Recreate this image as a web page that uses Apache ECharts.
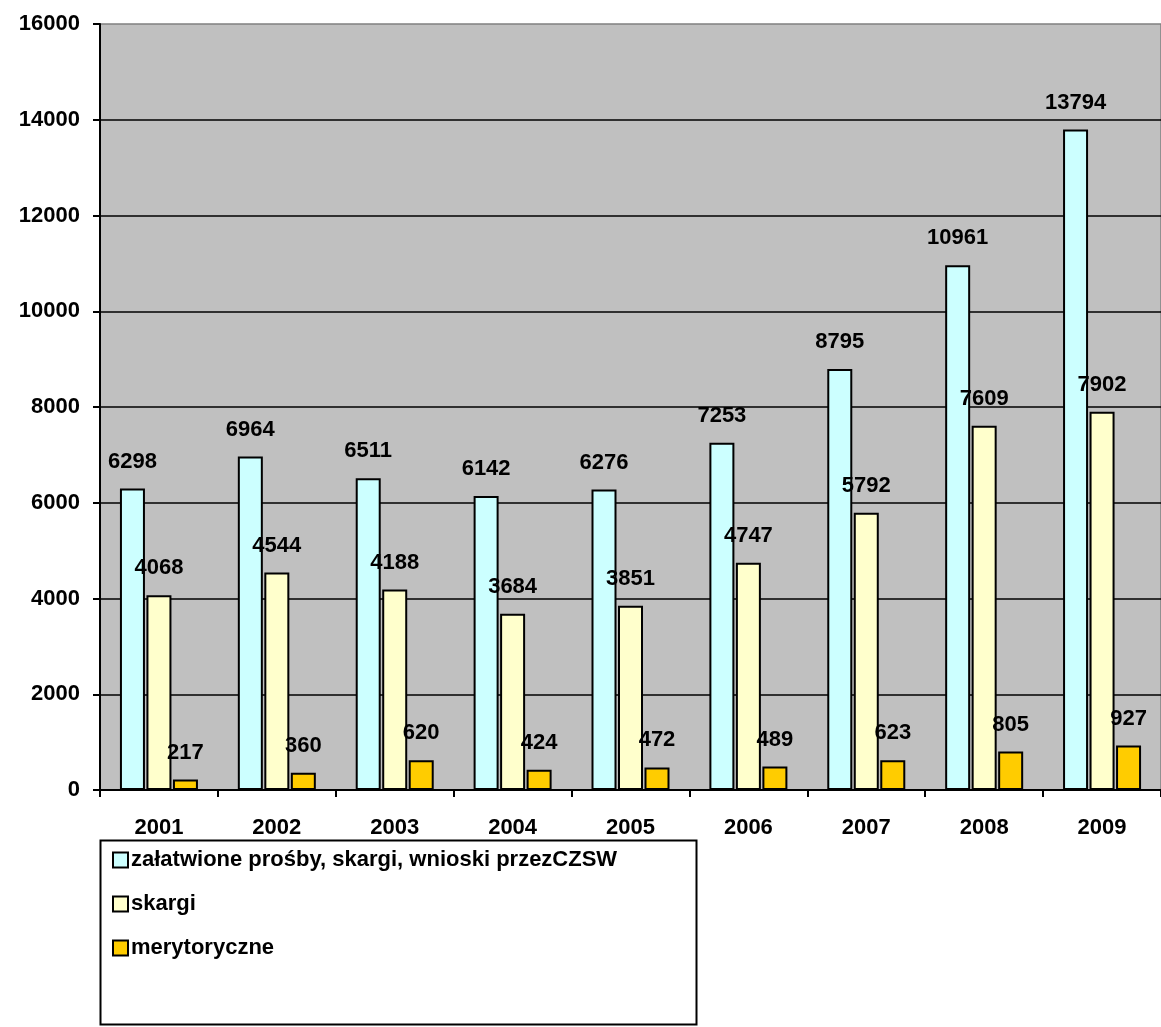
<!DOCTYPE html>
<html>
<head>
<meta charset="utf-8">
<script src="https://cdn.jsdelivr.net/npm/echarts@6/dist/echarts.min.js"></script>
<style>
  html, body { margin: 0; padding: 0; background: #fff; }
  #chart { width: 1161px; height: 1027px; }
</style>
</head>
<body>
<div id="chart"></div>
<script>
// Data
const years = ['2001', '2002', '2003', '2004', '2005', '2006', '2007', '2008', '2009']
const seriesNames = ['załatwione prośby, skargi, wnioski przezCZSW', 'skargi', 'merytoryczne']
const zalatwione = [6298, 6964, 6511, 6142, 6276, 7253, 8795, 10961, 13794]
const skargi = [4068, 4544, 4188, 3684, 3851, 4747, 5792, 7609, 7902]
const merytoryczne = [217, 360, 620, 424, 472, 489, 623, 805, 927]
const colors = ['#CCFFFF', '#FFFFCC', '#FFCC00']

const font = 'Arial, "Liberation Sans", sans-serif'
const chart = echarts.init(document.getElementById('chart'))

const makeSeries = (name, data, color) => ({
  name,
  type: 'bar',
  data,
  barWidth: 25,
  barGap: '6%',
  itemStyle: { color, borderColor: '#000', borderWidth: 2 },
  label: {
    show: true,
    position: 'top',
    distance: 16,
    color: '#000',
    fontFamily: font,
    fontWeight: 'bold',
    fontSize: 22
  }
})

const option = {
  animation: false,
  grid: {
    left: 100,
    top: 24,
    width: 1068.75,
    height: 766,
    show: true,
    backgroundColor: '#C0C0C0',
    borderColor: '#808080',
    borderWidth: 1.5
  },
  legend: {
    orient: 'vertical',
    left: 112,
    top: 849,
    icon: 'rect',
    itemWidth: 15,
    itemHeight: 15,
    itemGap: 22,
    padding: 0,
    textStyle: { color: '#000', fontFamily: font, fontWeight: 'bold', fontSize: 22, padding: [0, 0, 0, -2] },
    data: seriesNames
  },
  xAxis: {
    type: 'category',
    data: years,
    axisLine: { lineStyle: { color: '#000', width: 2 } },
    axisTick: { show: true, length: 7, lineStyle: { color: '#000', width: 2 } },
    axisLabel: { color: '#000', fontFamily: font, fontWeight: 'bold', fontSize: 22, margin: 27 }
  },
  yAxis: {
    type: 'value',
    min: 0,
    max: 16000,
    interval: 2000,
    axisLine: { show: true, lineStyle: { color: '#000', width: 2 } },
    axisTick: { show: true, length: 7, lineStyle: { color: '#000', width: 2 } },
    axisLabel: {
      color: '#000', fontFamily: font, fontWeight: 'bold', fontSize: 22, margin: 20,
      formatter: (v) => String(v)
    },
    splitLine: { show: true, showMaxLine: false, lineStyle: { color: '#000', width: 1.5 } }
  },
  graphic: [{
    type: 'rect',
    left: 98,
    top: 838,
    shape: { width: 596, height: 184 },
    style: { fill: null, stroke: '#000', lineWidth: 2 },
    silent: true
  }],
  series: [
    makeSeries(seriesNames[0], zalatwione, colors[0]),
    makeSeries(seriesNames[1], skargi, colors[1]),
    makeSeries(seriesNames[2], merytoryczne, colors[2])
  ]
}

chart.setOption(option)
</script>
</body>
</html>
